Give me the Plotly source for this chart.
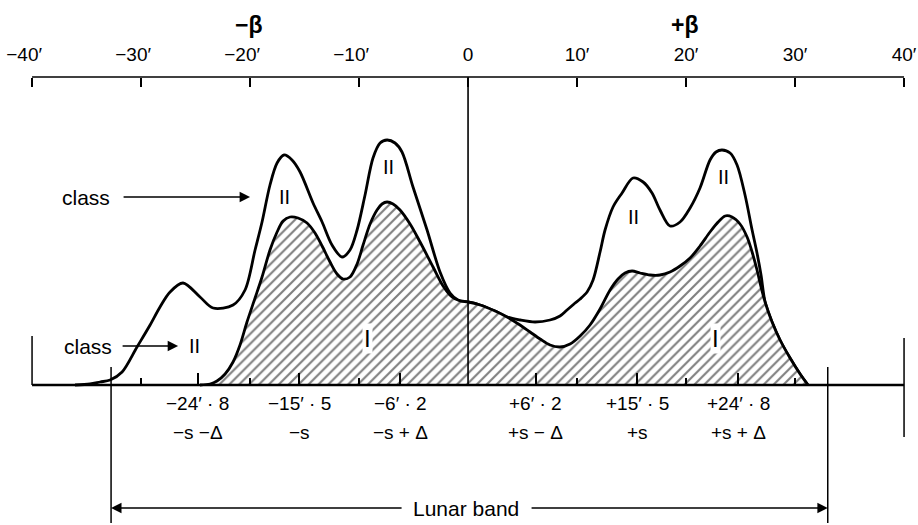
import plotly.graph_objects as go

# ---------------- data (arc-minutes vs. relative line intensity) ----------------
outer_x = [-36.06, -34.68, -33.76, -32.84, -31.74, -30.37, -29.17, -28.26, -27.34, -26.15,
           -24.59, -23.39, -21.56, -20.46, -19.54, -18.90, -18.17, -17.52, -16.88, -16.15,
           -15.41, -14.22, -13.39, -12.48, -11.56, -10.83, -10.18, -9.45, -8.72, -8.07,
           -7.43, -6.70, -6.06, -5.05, -3.76, -2.57, -1.65, -0.92, 0.0, 1.10,
           2.48, 3.58, 4.77, 6.15, 7.52, 8.44, 9.08, 9.82, 10.28, 10.92,
           11.47, 12.11, 12.57, 13.30, 14.13, 15.14, 16.06, 16.88, 17.61, 18.53,
           19.45, 20.37, 21.28, 22.20, 22.75, 23.30, 24.04, 24.68, 25.41, 26.06,
           26.51, 26.88, 27.25, 27.89, 28.62, 29.54, 30.46, 31.19]
outer_y = [0.0, 0.1, 0.3, 0.5, 1.3, 3.8, 6.0, 7.8, 9.3, 10.2,
           8.8, 7.7, 8.0, 9.5, 13.5, 16.3, 20.0, 22.2, 23.0, 22.5,
           21.3, 18.2, 16.3, 14.0, 12.8, 13.5, 15.5, 19.0, 22.7, 24.2,
           24.5, 24.2, 23.3, 19.8, 15.5, 11.3, 9.2, 8.5, 8.3, 8.0,
           7.4, 6.8, 6.5, 6.3, 6.5, 6.9, 7.5, 8.2, 8.6, 9.3,
           10.5, 13.3, 15.5, 17.8, 19.2, 20.7, 20.3, 19.2, 17.5, 15.9,
           16.3, 17.7, 19.7, 22.5, 23.3, 23.5, 23.2, 22.0, 19.0, 15.5,
           13.2, 11.0, 8.3, 6.3, 4.5, 2.7, 1.1, 0.0]

inner_x = [-24.59, -23.67, -23.03, -22.29, -21.56, -20.92, -20.28, -19.54, -18.90, -18.17,
           -17.52, -16.97, -16.33, -15.60, -14.77, -14.04, -13.39, -12.66, -12.02, -11.47,
           -10.83, -10.18, -9.63, -8.99, -8.35, -7.89, -7.43, -6.88, -6.24, -5.32,
           -4.40, -3.21, -2.29, -1.47, -0.73, 0.0, 1.10, 2.48, 3.58, 4.77,
           5.69, 6.61, 7.52, 8.44, 9.36, 10.28, 11.19, 12.11, 13.03, 13.76,
           14.40, 15.05, 15.78, 16.70, 17.61, 18.53, 19.45, 20.37, 21.28, 22.20,
           22.94, 23.58, 24.22, 24.95, 25.60, 26.06, 26.51, 26.88, 27.25, 27.89,
           28.62, 29.54, 30.46, 31.19]
inner_y = [0.0, 0.1, 0.4, 1.1, 2.3, 4.0, 6.3, 8.7, 10.8, 13.5,
           15.3, 16.4, 16.8, 16.7, 16.2, 15.2, 13.9, 12.3, 11.1, 10.6,
           10.8, 12.1, 14.0, 16.1, 17.5, 18.1, 18.3, 18.1, 17.5, 16.1,
           14.3, 11.8, 9.9, 8.8, 8.4, 8.3, 8.0, 7.4, 6.8, 6.0,
           5.3, 4.6, 4.0, 3.8, 4.1, 4.9, 6.0, 7.6, 9.5, 10.6,
           11.2, 11.4, 11.2, 11.0, 11.0, 11.3, 11.9, 12.7, 13.9, 15.3,
           16.3, 16.9, 16.8, 16.1, 14.8, 13.3, 11.5, 9.8, 8.3, 6.3,
           4.5, 2.7, 1.1, 0.0]

ruler_ticks = [-40, -30, -20, -10, 0, 10, 20, 30, 40]
ruler_labels = ["\u221240\u2032", "\u221230\u2032", "\u221220\u2032", "\u221210\u2032", "0",
                "10\u2032", "20\u2032", "30\u2032", "40\u2032"]

line_pos = [-24.8, -15.5, -6.2, 6.2, 15.5, 24.8]
line_pos_labels = ["\u221224\u2032 \u00b7 8", "\u221215\u2032 \u00b7 5", "\u22126\u2032 \u00b7 2",
                   "+6\u2032 \u00b7 2", "+15\u2032 \u00b7 5", "+24\u2032 \u00b7 8"]
line_sym_labels = ["\u2212s \u2212\u0394", "\u2212s", "\u2212s + \u0394",
                   "+s \u2212 \u0394", "+s", "+s + \u0394"]
minor_pos = [-30, -20, -10, 10, 20, 30]

lunar_band = [-32.75, 33.0]

# ---------------- layout constants ----------------
FONT = "Liberation Sans"
XR = [-42.94, 41.28]
YR = [-14.0, 38.5]
RULER_Y = 30.8
ROW1_Y = -1.8
ROW2_Y = -4.7
BAND_Y = -12.3

def ypos(v):
    return (v - YR[0]) / (YR[1] - YR[0])

fig = go.Figure()

fig.add_trace(go.Scatter(x=outer_x, y=outer_y, mode="lines",
                         line=dict(color="black", width=2.8, shape="spline", smoothing=0.9),
                         hoverinfo="skip"))
fig.add_trace(go.Scatter(x=inner_x, y=inner_y, mode="lines", fill="tozeroy",
                         fillpattern=dict(shape="/", size=7, solidity=0.3,
                                          fgcolor="black", bgcolor="white"),
                         line=dict(color="black", width=2.8, shape="spline", smoothing=0.9),
                         hoverinfo="skip"))
# baseline on the lower (tick) axis
fig.add_trace(go.Scatter(x=[ruler_ticks[0], ruler_ticks[-1]], y=[0, 0], mode="lines",
                         line=dict(color="black", width=2.5), xaxis="x2", hoverinfo="skip"))

pad = "\u00a0\u00a0\u00a0"
ticktext = [t + pad if t.startswith("\u2212") else t for t in ruler_labels]

fig.update_layout(
    width=918, height=525,
    margin=dict(l=0, r=0, t=0, b=0),
    paper_bgcolor="white", plot_bgcolor="white",
    showlegend=False,
    font=dict(family=FONT, color="black"),
    xaxis=dict(range=XR, anchor="free", position=ypos(RULER_Y), side="top",
               tickmode="array", tickvals=ruler_ticks, ticktext=ticktext,
               ticks="inside", ticklen=9, tickwidth=1.5, tickcolor="black",
               ticklabelstandoff=12,
               showline=False, showgrid=False, zeroline=False,
               tickfont=dict(family=FONT, size=19, color="black")),
    xaxis2=dict(range=XR, overlaying="x", anchor="free", position=ypos(0), side="bottom",
                tickmode="array", tickvals=line_pos, showticklabels=False,
                ticks="inside", ticklen=12, tickwidth=1.5, tickcolor="black",
                minor=dict(tickmode="array", tickvals=minor_pos, ticks="inside",
                           ticklen=7, tickwidth=1.5, tickcolor="black"),
                showline=False, showgrid=False, zeroline=False),
    yaxis=dict(range=YR, visible=False),
)

shapes = []
def seg(x0, y0, x1, y1, w=1.5):
    shapes.append(dict(type="line", xref="x", yref="y", x0=x0, y0=y0, x1=x1, y1=y1,
                       line=dict(color="black", width=w)))

seg(ruler_ticks[0], RULER_Y, ruler_ticks[-1], RULER_Y, 1.6)   # ruler
seg(0, 0, 0, RULER_Y, 1.6)                                     # zero line
seg(ruler_ticks[0], 0, ruler_ticks[0], 4.9, 1.5)               # left end bar
seg(ruler_ticks[-1], -5.2, ruler_ticks[-1], 4.7, 1.5)          # right end bar
for lb in lunar_band:
    seg(lb, 1.8, lb, -13.8, 1.5)
fig.update_layout(shapes=shapes)

ann = []
def txt(x, y, s, size=20, bg=None, bold=False):
    d = dict(x=x, y=y, xref="x", yref="y", text=("<b>%s</b>" % s) if bold else s,
             showarrow=False, font=dict(family=FONT, size=size, color="black"),
             xanchor="center", yanchor="middle")
    if bg:
        d.update(bgcolor=bg, borderpad=1)
    ann.append(d)

def arrow(x_tail, x_head, y):
    ann.append(dict(x=x_head, y=y, ax=x_tail, ay=y, xref="x", yref="y", axref="x", ayref="y",
                    text="", showarrow=True, arrowhead=2, arrowsize=1.3, arrowwidth=1.6,
                    arrowcolor="black", standoff=0, startstandoff=0))

txt(-20.1, 36.0, "\u2212\u03b2", 23, bold=True)
txt(19.9, 36.0, "+\u03b2", 23, bold=True)

for xp, a, b in zip(line_pos, line_pos_labels, line_sym_labels):
    txt(xp, ROW1_Y, a, 19)
    txt(xp, ROW2_Y, b, 19)

txt(-35.05, 18.8, "class", 21)
arrow(-31.74, -20.0, 18.8)
txt(-16.88, 18.8, "II", 20)
txt(-34.86, 3.9, "class", 21)
arrow(-31.83, -26.6, 3.9)
txt(-25.14, 3.9, "II", 20)
txt(-7.34, 21.8, "II", 20)
txt(15.14, 16.8, "II", 20)
txt(23.39, 20.8, "II", 20)
txt(-9.27, 4.7, "I", 24, bg="white")
txt(22.66, 4.7, "I", 24, bg="white")

txt(-0.2, BAND_Y, "Lunar band", 21)
arrow(-5.96, lunar_band[0], BAND_Y)
arrow(5.69, lunar_band[1], BAND_Y)

fig.update_layout(annotations=ann)

fig.write_html("out.html")
